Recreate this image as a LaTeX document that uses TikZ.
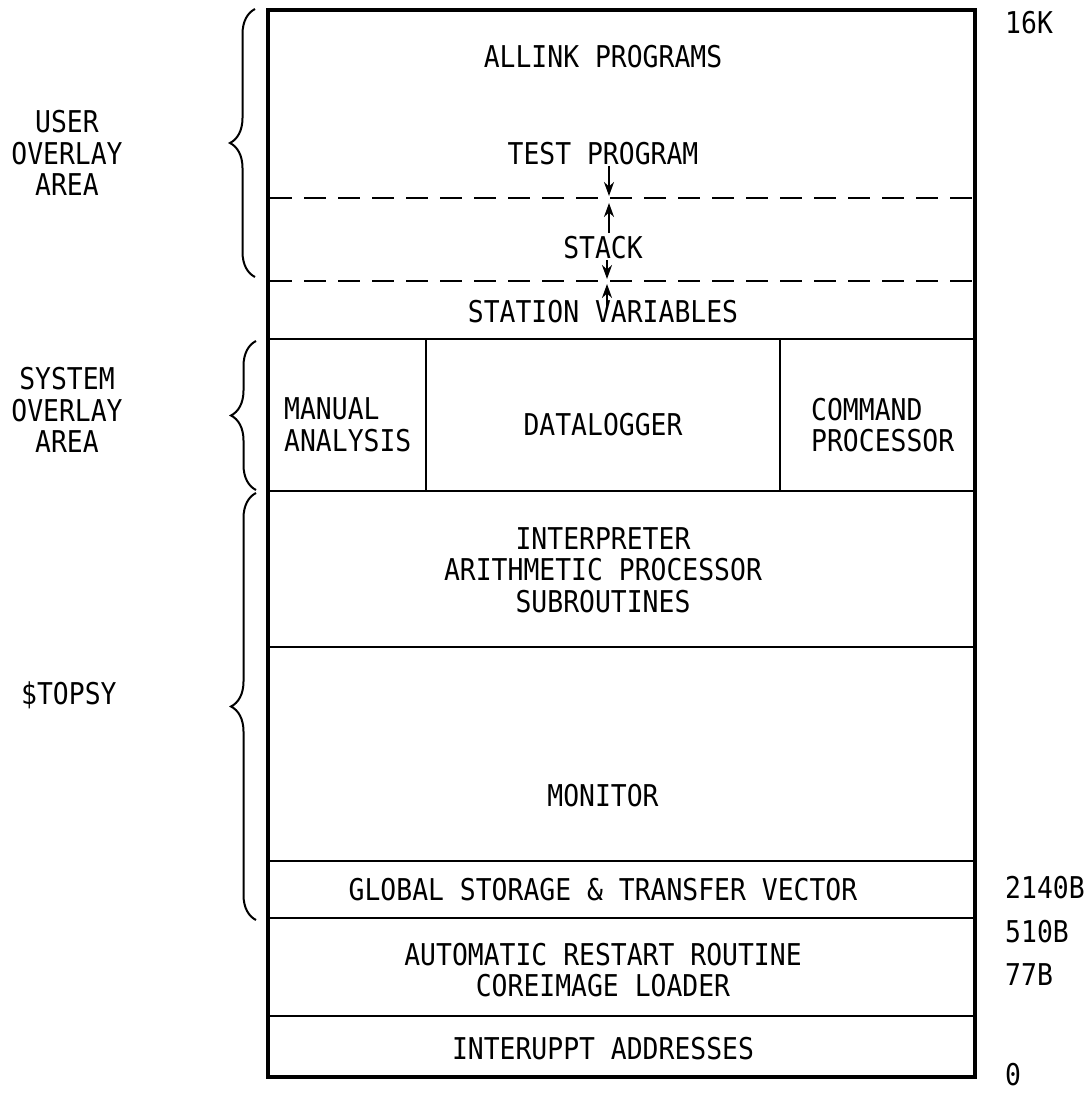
\documentclass[tikz,border=0pt]{standalone}
\usepackage{fontspec}
\newfontfamily\memfont[FakeStretch=0.88]{DejaVu Sans Mono}
\usetikzlibrary{decorations.pathreplacing,arrows.meta}
\begin{document}
\begin{tikzpicture}[x=1pt,y=-1pt,
  lbl/.style={font=\memfont\fontsize{30}{31.5}\selectfont, inner sep=0pt, align=center},
  lbll/.style={lbl, align=left, anchor=west},
  outer/.style={line width=4pt},
  inner/.style={line width=2pt},
  dash line/.style={line width=2pt, dash pattern=on 22pt off 12pt},
  ptr/.style={line width=2.2pt, -{Stealth[length=14pt,width=10pt]}},
  brc/.style={line width=2pt, decorate, decoration={brace, amplitude=25pt, aspect=0.5}}]
\useasboundingbox (0,0) rectangle (1086,1094);
% partitions
\draw[dash line] (270,198) -- (973,198);
\draw[dash line] (270,281) -- (973,281);
\draw[inner] (268,339) -- (975,339);
\draw[inner] (268,491) -- (975,491);
\draw[inner] (268,647) -- (975,647);
\draw[inner] (268,861) -- (975,861);
\draw[inner] (268,918) -- (975,918);
\draw[inner] (268,1016) -- (975,1016);
\draw[inner] (426,339) -- (426,491);
\draw[inner] (780,339) -- (780,491);
\draw[outer] (268,10) rectangle (975,1077);
% texts in box
\node[lbl] (allink) at (603,57) {ALLINK PROGRAMS};
\node[lbl] (test) at (603,154) {TEST PROGRAM};
\node[lbl] (stack) at (603,248) {STACK};
\node[lbl] (station) at (603,312) {STATION VARIABLES};
\node[lbll] (manual) at (284,425) {MANUAL\\ANALYSIS};
\node[lbl] (datalog) at (603,425) {DATALOGGER};
\node[lbll] (command) at (811,425) {COMMAND\\PROCESSOR};
\node[lbl] (interp) at (603,570) {INTERPRETER\\ARITHMETIC PROCESSOR\\SUBROUTINES};
\node[lbl] (monitor) at (603,796) {MONITOR};
\node[lbl] (global) at (603,890) {GLOBAL STORAGE \& TRANSFER VECTOR};
\node[lbl] (restart) at (603,970) {AUTOMATIC RESTART ROUTINE\\COREIMAGE LOADER};
\node[lbl] (interrupt) at (603,1049) {INTERUPPT ADDRESSES};
% arrows
\coordinate (d1) at (609,196);
\coordinate (d2) at (609,203);
\coordinate (d3) at (607,279);
\coordinate (d4) at (607,284);
\coordinate (a1) at (609,166);
\coordinate (a2) at (609,233);
\coordinate (a3) at (607,260);
\coordinate (a4) at (607,308);
\draw[ptr] (a1) -- (d1);
\draw[ptr] (a2) -- (d2);
\draw[ptr] (a3) -- (d3);
\draw[ptr] (a4) -- (d4);
% right labels
\node[lbll] (k16) at (1005,23) {16K};
\node[lbll] (b2140) at (1005,888) {2140B};
\node[lbll] (b510) at (1005,932) {510B};
\node[lbll] (b77) at (1005,975) {77B};
\node[lbll] (zero) at (1005,1075) {0};
% braces
\draw[brc] (255,277) -- (255,9);
\draw[brc] (256,490) -- (256,341);
\draw[brc] (256,920) -- (256,493);
% left labels
\node[lbl] (user) at (67,153) {USER\\OVERLAY\\AREA};
\node[lbl] (system) at (67,410) {SYSTEM\\OVERLAY\\AREA};
\node[lbll] (topsy) at (21,695) {\$TOPSY};
\end{tikzpicture}
\end{document}
